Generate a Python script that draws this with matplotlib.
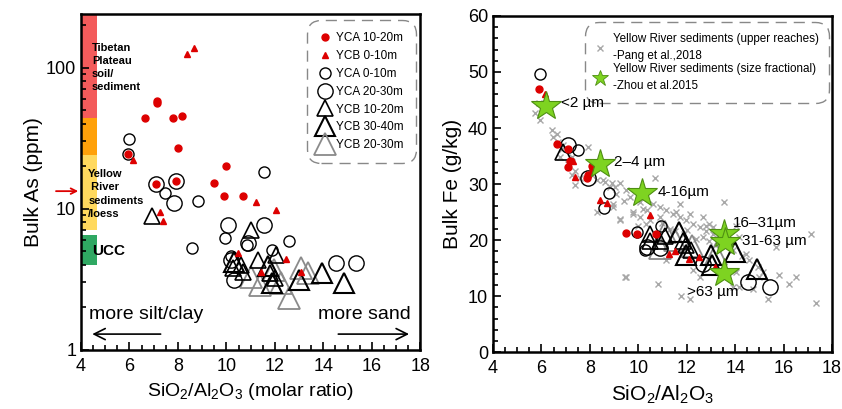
import numpy as np
import matplotlib.pyplot as plt
from matplotlib.lines import Line2D
from matplotlib.ticker import MultipleLocator

plt.rcParams['font.family'] = ['Liberation Sans', 'DejaVu Sans']
plt.rcParams['mathtext.fontset'] = 'custom'
plt.rcParams['mathtext.rm'] = 'Liberation Sans'

# ---------------- left panel: Bulk As vs SiO2/Al2O3 ----------------
yca1020_x = [8.15, 7.14, 7.14, 6.62, 7.81, 7.99, 5.92, 9.99, 9.48, 7.08, 7.92, 9.9, 10.68]
yca1020_y = [45, 58, 56, 44, 44, 27, 24.5, 20, 15.2, 15.0, 15.6, 12.3, 12.3]

ycb010_x = [8.37, 8.67, 6.14, 7.28, 7.37, 11.23, 12.04, 10.48, 12.47, 11.44, 13.08]
ycb010_y = [125, 138, 22, 9.4, 8.2, 11.1, 9.7, 4.85, 4.39, 3.58, 3.58]

yca010_x = [6.0, 5.92, 7.48, 11.57, 8.81, 8.56, 9.93, 10.83, 12.6, 11.9, 10.2]
yca010_y = [31, 24.5, 13.0, 18.3, 11.3, 5.3, 6.2, 5.5, 5.9, 5.1, 4.6]

yca2030_x = [7.08, 7.92, 7.85, 10.07, 11.57, 10.33, 14.52, 15.34, 10.2, 10.9]
yca2030_y = [15.0, 15.6, 11.0, 7.7, 7.7, 3.13, 4.1, 4.1, 4.3, 5.7]

ycb1020_x = [6.92, 11.03, 10.27, 10.68, 11.29, 12.05, 11.8, 12.0, 10.6]
ycb1020_y = [8.8, 7.1, 3.79, 3.58, 4.35, 4.7, 3.49, 3.21, 4.0]

ycb3040_x = [10.33, 11.9, 13.01, 13.95, 14.86, 11.7]
ycb3040_y = [4.2, 2.96, 3.13, 3.49, 2.96, 3.9]

ycb2030_x = [12.6, 13.08, 13.36, 11.37, 12.26, 11.0, 11.95]
ycb2030_y = [2.32, 3.79, 3.49, 2.88, 2.96, 3.3, 3.7]

# reference ranges (ppm) shown as coloured bars
bands = [(44, 240, '#f35b5b'), (24, 44, '#ffa10a'), (7.0, 24, '#ffd95e'), (4.0, 6.5, '#2fa862')]

# ---------------- right panel: Bulk Fe vs SiO2/Al2O3 ----------------
pang_x = [5.88, 5.74, 5.95, 6.43, 6.63, 6.49, 6.70, 6.84, 6.91, 6.77, 7.25, 7.11, 7.39, 7.25,
          7.59, 7.39, 8.07, 8.62, 8.90, 9.03, 8.28, 10.68, 8.55, 8.83, 9.24, 9.10, 9.51, 9.65,
          10.06, 10.61, 10.89, 11.16, 11.43, 11.71, 11.98, 12.26, 12.53, 12.81, 13.08, 11.57,
          12.94, 13.56, 9.24, 8.96, 9.79, 10.34, 10.89, 9.44, 11.16, 12.26, 12.53, 12.12, 12.67,
          11.71, 12.81, 13.08, 13.35, 12.67, 12.94, 14.04, 14.18, 14.04, 14.59, 14.93, 15.14,
          15.82, 16.24, 16.51, 17.13, 15.34, 17.36, 14.72, 13.9, 15.0, 14.45, 13.7, 15.69,
          12.12, 11.78, 10.82, 9.49, 14.18, 8.28, 9.24, 9.79, 8.96, 10.06, 10.3, 10.5, 11.3,
          11.9, 12.4, 13.3, 13.9, 14.3, 7.91, 9.4, 10.2, 11.0, 12.0, 10.0, 11.5]
pang_y = [44.4, 42.6, 41.4, 39.6, 39.0, 38.4, 37.5, 36.3, 36.9, 34.8, 34.8, 33.6, 32.4, 31.6,
          31.0, 29.9, 31.6, 30.4, 30.1, 29.5, 30.7, 31.1, 30.7, 29.5, 30.1, 28.3, 28.9, 27.7,
          26.8, 26.5, 25.9, 25.3, 24.7, 24.1, 23.5, 22.9, 22.3, 21.7, 21.1, 25.0,
          22.9, 26.8, 23.5, 26.5, 24.7, 25.3, 24.1, 13.4, 16.4, 14.6, 13.4, 24.7, 24.1,
          26.5, 22.6, 22.3, 21.1, 20.5, 19.9, 22.6, 20.5, 14.3, 16.4, 15.2, 14.3,
          13.7, 12.2, 13.5, 21.1, 9.5, 8.75, 11.3, 11.6, 13.4, 17.6, 19.4, 18.75,
          9.5, 10.1, 12.2, 13.5, 11.7, 25.0, 23.8, 25.0, 25.9, 24.1, 22.8, 23.6, 22.0,
          21.0, 20.2, 19.3, 18.3, 17.2, 36.6, 27.0, 25.6, 23.0, 21.8, 22.5, 21.6]

zhou_x = [6.19, 8.42, 10.17, 13.52, 13.58, 13.52]
zhou_y = [43.9, 33.6, 28.4, 21.1, 19.6, 14.1]
zhou_lab = ['<2 µm', '2–4 µm', '4-16µm', '16–31µm', '31-63 µm', '>63 µm']
zhou_lab_xy = [(6.8, 44.5), (9.0, 34.0), (10.8, 28.6), (13.9, 23.0), (14.3, 19.9), (12.0, 10.7)]

fe_yca1020_x = [5.9, 6.63, 7.11, 7.18, 7.11, 8.07, 8.14, 7.93, 7.87, 9.49, 9.95, 10.72]
fe_yca1020_y = [47.0, 37.2, 36.3, 34.2, 33.0, 33.3, 32.7, 31.6, 31.0, 21.3, 21.0, 21.0]

fe_ycb010_x = [6.15, 7.32, 7.39, 8.42, 8.69, 10.5, 11.27, 11.5, 12.09, 12.5, 13.15]
fe_ycb010_y = [46.1, 34.2, 31.2, 27.2, 26.6, 24.5, 17.6, 18.0, 16.7, 16.9, 15.2]

fe_yca010_x = [5.95, 7.52, 8.8, 8.58, 9.95, 10.95, 10.28]
fe_yca010_y = [49.6, 36.0, 28.4, 25.8, 21.4, 22.6, 18.2]

fe_yca2030_x = [7.11, 7.93, 10.34, 10.88, 12.67, 14.52, 15.44]
fe_yca2030_y = [36.9, 31.0, 18.75, 18.6, 15.8, 12.5, 11.6]

fe_ycb1020_x = [6.9, 10.47, 10.47, 10.88, 11.09, 11.84, 11.98, 12.19]
fe_ycb1020_y = [35.7, 21.1, 19.9, 19.9, 20.8, 19.9, 19.05, 18.2]

fe_ycb3040_x = [11.7, 11.98, 13.01, 13.05, 14.0, 14.89]
fe_ycb3040_y = [21.4, 17.3, 17.3, 15.5, 17.9, 14.9]

fe_ycb2030_x = [11.1, 11.5, 12.2, 13.2, 10.9]
fe_ycb2030_y = [21.5, 20.0, 19.0, 17.5, 18.5]

RED = '#dd0000'
GRAY = '#8a8a8a'


def style_axes(ax):
    for s in ax.spines.values():
        s.set_linewidth(1.8)
    ax.tick_params(which='both', direction='in', labelsize=13, width=1.2)
    ax.tick_params(which='major', length=6)
    ax.tick_params(which='minor', length=3.5)
    ax.tick_params(axis='x', pad=6)


def dashed_frame(leg):
    fr = leg.get_frame()
    fr.set_linestyle((0, (8, 5)))
    fr.set_edgecolor('#888888')
    fr.set_linewidth(1.0)
    fr.set_boxstyle('round,pad=0.4,rounding_size=1.2')


def draw_groups(ax, d):
    # big gray first, then black triangles, circles, red markers on top
    ax.plot(*d['ycb2030'], '^', ms=16, mfc='none', mec=GRAY, mew=1.3, ls='none')
    ax.plot(*d['ycb3040'], '^', ms=14, mfc='none', mec='k', mew=1.5, ls='none')
    ax.plot(*d['ycb1020'], '^', ms=12, mfc='none', mec='k', mew=1.2, ls='none')
    ax.plot(*d['yca2030'], 'o', ms=11, mfc='none', mec='k', mew=1.0, ls='none')
    ax.plot(*d['yca010'], 'o', ms=8, mfc='none', mec='k', mew=1.0, ls='none')
    ax.plot(*d['ycb010'], '^', ms=5, color=RED, ls='none')
    ax.plot(*d['yca1020'], 'o', ms=5, color=RED, ls='none')


fig = plt.figure(figsize=(8.42, 4.09), dpi=100)
ax1 = fig.add_axes([0.0962, 0.145, 0.403, 0.821])
ax2 = fig.add_axes([0.5855, 0.139, 0.4026, 0.822])

# ---- left ----
ax1.set_yscale('log')
ax1.set_xlim(4, 18)
ax1.set_ylim(1, 240)
for lo, hi, c in bands:
    ax1.axhspan(lo, hi, xmin=0, xmax=0.047, color=c, lw=0, zorder=0)

draw_groups(ax1, {
    'yca1020': (yca1020_x, yca1020_y), 'ycb010': (ycb010_x, ycb010_y),
    'yca010': (yca010_x, yca010_y), 'yca2030': (yca2030_x, yca2030_y),
    'ycb1020': (ycb1020_x, ycb1020_y), 'ycb3040': (ycb3040_x, ycb3040_y),
    'ycb2030': (ycb2030_x, ycb2030_y)})

ax1.text(4.45, 150, 'Tibetan\nPlateau\nsoil/\nsediment', fontsize=8, fontweight='bold',
         va='top', ha='left', linespacing=1.4)
ax1.text(4.3, 19, 'Yellow\n River\nsediments\n/loess', fontsize=8, fontweight='bold',
         va='top', ha='left', linespacing=1.4)
ax1.text(4.45, 5.0, 'UCC', fontsize=11, fontweight='bold', va='center', ha='left')

ax1.annotate('', xy=(4, 13.3), xytext=(-20, 0), textcoords='offset points',
             arrowprops=dict(arrowstyle='->', color=RED, lw=1.3), annotation_clip=False)

ax1.annotate('', xy=(4.35, 1.29), xytext=(7.4, 1.29),
             arrowprops=dict(arrowstyle='->', color='k', lw=1.2, mutation_scale=20))
ax1.annotate('', xy=(17.65, 1.29), xytext=(14.5, 1.29),
             arrowprops=dict(arrowstyle='->', color='k', lw=1.2, mutation_scale=20))
ax1.text(4.35, 1.78, 'more silt/clay', fontsize=14, va='center', ha='left')
ax1.text(17.6, 1.78, 'more sand', fontsize=14, va='center', ha='right')

ax1.xaxis.set_major_locator(MultipleLocator(2))
ax1.xaxis.set_minor_locator(MultipleLocator(0.5))
ax1.set_yticks([1, 10, 100])
ax1.set_yticklabels(['1', '10', '100'])
style_axes(ax1)
ax1.set_xlabel('SiO$_2$/Al$_2$O$_3$ (molar ratio)', fontsize=14, labelpad=4)
ax1.set_ylabel('Bulk As (ppm)', fontsize=15, labelpad=2)

handles1 = [
    Line2D([], [], marker='o', ms=5, color=RED, ls='none'),
    Line2D([], [], marker='^', ms=5, color=RED, ls='none'),
    Line2D([], [], marker='o', ms=8, mfc='none', mec='k', ls='none'),
    Line2D([], [], marker='o', ms=11, mfc='none', mec='k', ls='none'),
    Line2D([], [], marker='^', ms=12, mfc='none', mec='k', mew=1.2, ls='none'),
    Line2D([], [], marker='^', ms=14, mfc='none', mec='k', mew=1.5, ls='none'),
    Line2D([], [], marker='^', ms=16, mfc='none', mec=GRAY, mew=1.3, ls='none'),
]
labels1 = ['YCA 10-20m', 'YCB 0-10m', 'YCA 0-10m', 'YCA 20-30m', 'YCB 10-20m', 'YCB 30-40m', 'YCB 20-30m']
leg1 = ax1.legend(handles1, labels1, loc='upper right', bbox_to_anchor=(0.99, 0.985), fontsize=8.5,
                  handlelength=1.1, handletextpad=0.4, labelspacing=0.5, borderpad=0.6,
                  fancybox=True, framealpha=1)
dashed_frame(leg1)

# ---- right ----
ax2.set_xlim(4, 18)
ax2.set_ylim(0, 60)
ax2.plot(pang_x, pang_y, 'x', ms=4.5, mew=1.0, color='#a8a8a8', ls='none', zorder=1)
draw_groups(ax2, {
    'yca1020': (fe_yca1020_x, fe_yca1020_y), 'ycb010': (fe_ycb010_x, fe_ycb010_y),
    'yca010': (fe_yca010_x, fe_yca010_y), 'yca2030': (fe_yca2030_x, fe_yca2030_y),
    'ycb1020': (fe_ycb1020_x, fe_ycb1020_y), 'ycb3040': (fe_ycb3040_x, fe_ycb3040_y),
    'ycb2030': (fe_ycb2030_x, fe_ycb2030_y)})
ax2.plot(zhou_x, zhou_y, '*', ms=22, mfc='#7ed321', mec='#4e8f12', mew=0.8, ls='none', zorder=5)
for lab, (tx, ty) in zip(zhou_lab, zhou_lab_xy):
    ax2.text(tx, ty, lab, fontsize=11, va='center', ha='left', zorder=6)

ax2.xaxis.set_major_locator(MultipleLocator(2))
ax2.xaxis.set_minor_locator(MultipleLocator(0.5))
ax2.yaxis.set_major_locator(MultipleLocator(10))
ax2.yaxis.set_minor_locator(MultipleLocator(2))
style_axes(ax2)
ax2.set_xlabel('SiO$_2$/Al$_2$O$_3$', fontsize=15, labelpad=4)
ax2.set_ylabel('Bulk Fe (g/kg)', fontsize=15, labelpad=4)

handles2 = [
    Line2D([], [], marker='x', ms=5, mew=1.0, color='#a8a8a8', ls='none'),
    Line2D([], [], marker='*', ms=12, mfc='#7ed321', mec='#4e8f12', mew=0.6, ls='none'),
]
labels2 = ['Yellow River sediments (upper reaches)\n-Pang et al.,2018',
           'Yellow River sediments (size fractional)\n-Zhou et al.2015']
leg2 = ax2.legend(handles2, labels2, loc='upper right', bbox_to_anchor=(0.995, 0.985), fontsize=8.4,
                  handlelength=0.8, handletextpad=0.7, labelspacing=0.15, borderpad=0.5,
                  fancybox=True, framealpha=1)
for t in leg2.get_texts():
    t.set_linespacing(1.55)
dashed_frame(leg2)

fig.savefig('out.png', dpi=100)
